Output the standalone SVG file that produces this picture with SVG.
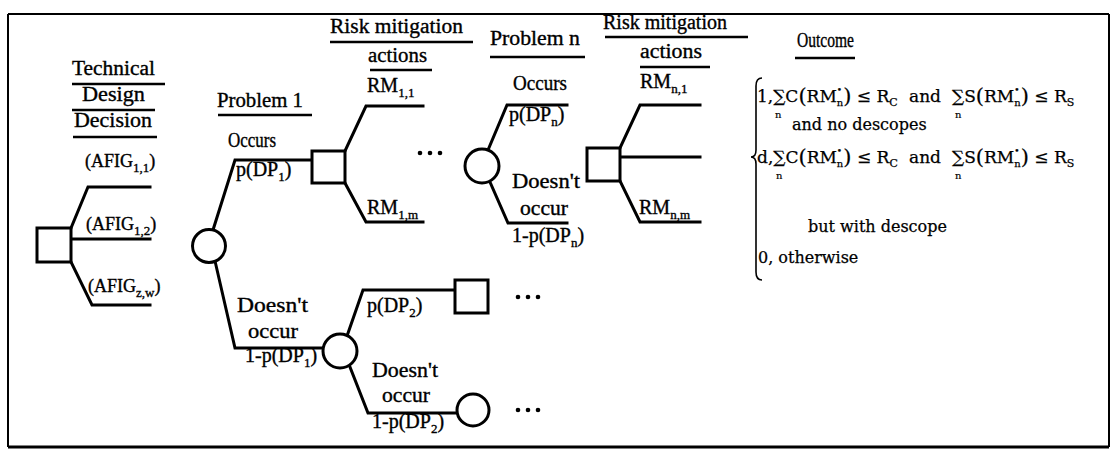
<svg xmlns="http://www.w3.org/2000/svg" width="1113" height="455" viewBox="0 0 1113 455">
  <style>
    .frame { fill: none; stroke: #000; }
    .br { fill: none; stroke: #000; stroke-width: 3; stroke-linejoin: miter; stroke-linecap: square; }
    .dec { fill: #fff; stroke: #000; stroke-width: 3; }
    .chance { fill: #fff; stroke: #000; stroke-width: 3; }
    .ul { stroke: #000; stroke-width: 2.5; }
    .dot { fill: #000; }
    text { font-family: "Liberation Serif", "Times New Roman", serif; fill: #000; stroke: #000; stroke-width: 0.35; }
    .lbl { font-size: 20px; }
    .afig { font-size: 18px; }
    .hd { font-size: 20px; }
    .sub { font-size: 13px; }
    .oc { font-family: "DejaVu Serif", "Liberation Serif", serif; font-size: 17px; stroke-width: 0.25; }
    .oc2 { font-family: "DejaVu Serif", "Liberation Serif", serif; font-size: 16px; stroke-width: 0.25; }
    .ocs { font-family: "DejaVu Serif", "Liberation Serif", serif; font-size: 10px; stroke-width: 0.2; }
    .big { font-size: 21px; }
    .sup { font-size: 9px; }
    .smal { font-size: 10px; }
    .rsub { font-size: 11px; }
  </style>

  <!-- outer border -->
  <g id="border">
    <line class="frame" x1="8" y1="14" x2="1109" y2="14" stroke-width="2"/>
    <line class="frame" x1="8" y1="14" x2="8" y2="447" stroke-width="2"/>
    <line class="frame" x1="1109" y1="14" x2="1109" y2="447" stroke-width="2"/>
    <line class="frame" x1="8" y1="447" x2="1109" y2="447" stroke-width="3"/>
  </g>

  <!-- column headings -->
  <g id="headings">
    <text class="hd" x="72" y="75" textLength="83" lengthAdjust="spacingAndGlyphs">Technical</text>
    <line class="ul" x1="72" y1="84" x2="165" y2="84"/>
    <text class="hd" x="82" y="101" textLength="63" lengthAdjust="spacingAndGlyphs">Design</text>
    <line class="ul" x1="72" y1="110" x2="155" y2="110"/>
    <text class="hd" x="74" y="127" textLength="78" lengthAdjust="spacingAndGlyphs">Decision</text>
    <line class="ul" x1="73" y1="137" x2="157" y2="137"/>

    <text class="hd" x="217" y="107" textLength="86" lengthAdjust="spacingAndGlyphs">Problem 1</text>
    <line class="ul" x1="218" y1="115" x2="312" y2="115"/>

    <text class="hd" x="330" y="33" textLength="133" lengthAdjust="spacingAndGlyphs">Risk mitigation</text>
    <line class="ul" x1="330" y1="42" x2="473" y2="42"/>
    <text class="hd" x="368" y="62" textLength="59" lengthAdjust="spacingAndGlyphs">actions</text>
    <line class="ul" x1="370" y1="70" x2="432" y2="70"/>

    <text class="hd" x="490" y="45" textLength="90" lengthAdjust="spacingAndGlyphs">Problem n</text>
    <line class="ul" x1="490" y1="57" x2="585" y2="57"/>

    <text class="hd" x="603" y="29" textLength="124" lengthAdjust="spacingAndGlyphs">Risk mitigation</text>
    <line class="ul" x1="605" y1="37" x2="748" y2="37"/>
    <text class="hd" x="640" y="58" textLength="62" lengthAdjust="spacingAndGlyphs">actions</text>
    <line class="ul" x1="640" y1="67" x2="710" y2="67"/>

    <text class="hd" x="797" y="47" textLength="57" lengthAdjust="spacingAndGlyphs">Outcome</text>
    <line class="ul" x1="795" y1="58" x2="855" y2="58"/>
  </g>

  <!-- branches -->
  <g id="connectors">
    <path class="br" d="M71,228 L88,187 L150,187"/>
    <path class="br" d="M71,239 L150,239"/>
    <path class="br" d="M71,262 L92,305 L150,305"/>

    <path class="br" d="M213,230 L235,160 L312,160"/>
    <path class="br" d="M215,261 L235,348 L323,348"/>

    <path class="br" d="M345,151 L366,106 L423,106"/>
    <path class="br" d="M345,183 L366,222 L423,222"/>

    <path class="br" d="M488,150 L507,105 L567,105"/>
    <path class="br" d="M490,182 L508,223 L567,223"/>

    <path class="br" d="M620,148 L640,105 L700,105"/>
    <path class="br" d="M620,157 L700,157"/>
    <path class="br" d="M620,181 L640,222 L700,222"/>

    <path class="br" d="M347,336 L363,290 L455,290"/>
    <path class="br" d="M350,367 L368,413 L457,413"/>
  </g>

  <!-- decision nodes -->
  <g id="decision-tdd"><rect class="dec" x="37" y="228" width="34" height="34"/></g>
  <g id="decision-p1"><rect class="dec" x="312" y="151" width="33" height="32"/></g>
  <g id="decision-pn"><rect class="dec" x="587" y="148" width="33" height="33"/></g>
  <g id="decision-p2"><rect class="dec" x="455" y="280" width="33" height="33"/></g>

  <!-- chance nodes -->
  <g id="chance-p1"><circle class="chance" cx="209" cy="246" r="16.5"/></g>
  <g id="chance-pn"><circle class="chance" cx="482" cy="166" r="17"/></g>
  <g id="chance-p2"><circle class="chance" cx="340" cy="351" r="17"/></g>
  <g id="chance-p3"><circle class="chance" cx="473" cy="410" r="16"/></g>

  <!-- ellipses -->
  <g id="ellipsis">
    <circle class="dot" cx="420" cy="153" r="2.3"/>
    <circle class="dot" cx="430" cy="153" r="2.3"/>
    <circle class="dot" cx="440" cy="153" r="2.3"/>
    <circle class="dot" cx="518" cy="297" r="2.3"/>
    <circle class="dot" cx="528" cy="297" r="2.3"/>
    <circle class="dot" cx="538" cy="297" r="2.3"/>
    <circle class="dot" cx="518" cy="410" r="2.3"/>
    <circle class="dot" cx="528" cy="410" r="2.3"/>
    <circle class="dot" cx="538" cy="410" r="2.3"/>
  </g>

  <!-- branch labels -->
  <g id="labels">
    <text class="afig" x="85" y="167">(AFIG<tspan class="sub" dy="5">1,1</tspan><tspan dy="-5">)</tspan></text>
    <text class="afig" x="86" y="230">(AFIG<tspan class="sub" dy="5">1,2</tspan><tspan dy="-5">)</tspan></text>
    <text class="afig" x="88" y="292">(AFIG<tspan class="sub" dy="5">z,w</tspan><tspan dy="-5">)</tspan></text>

    <text class="lbl" x="228" y="147" textLength="48" lengthAdjust="spacingAndGlyphs">Occurs</text>
    <text class="lbl" x="236" y="176">p(DP<tspan class="sub" dy="5">1</tspan><tspan dy="-5">)</tspan></text>
    <text class="lbl" x="237" y="312" textLength="71" lengthAdjust="spacingAndGlyphs">Doesn't</text>
    <text class="lbl" x="248" y="338" textLength="50" lengthAdjust="spacingAndGlyphs">occur</text>
    <text class="lbl" x="245" y="362">1-p(DP<tspan class="sub" dy="5">1</tspan><tspan dy="-5">)</tspan></text>

    <text class="lbl" x="367" y="92">RM<tspan class="sub" dy="5">1,1</tspan></text>
    <text class="lbl" x="367" y="214">RM<tspan class="sub" dy="5">1,m</tspan></text>

    <text class="lbl" x="513" y="90" textLength="54" lengthAdjust="spacingAndGlyphs">Occurs</text>
    <text class="lbl" x="509" y="121">p(DP<tspan class="sub" dy="5">n</tspan><tspan dy="-5">)</tspan></text>
    <text class="lbl" x="512" y="188" textLength="68" lengthAdjust="spacingAndGlyphs">Doesn't</text>
    <text class="lbl" x="520" y="215" textLength="48" lengthAdjust="spacingAndGlyphs">occur</text>
    <text class="lbl" x="512" y="242">1-p(DP<tspan class="sub" dy="5">n</tspan><tspan dy="-5">)</tspan></text>

    <text class="lbl" x="640" y="88">RM<tspan class="sub" dy="5">n,1</tspan></text>
    <text class="lbl" x="639" y="214">RM<tspan class="sub" dy="5">n,m</tspan></text>

    <text class="lbl" x="367" y="312">p(DP<tspan class="sub" dy="5">2</tspan><tspan dy="-5">)</tspan></text>
    <text class="lbl" x="372" y="377" textLength="66" lengthAdjust="spacingAndGlyphs">Doesn't</text>
    <text class="lbl" x="382" y="402" textLength="48" lengthAdjust="spacingAndGlyphs">occur</text>
    <text class="lbl" x="372" y="428">1-p(DP<tspan class="sub" dy="5">2</tspan><tspan dy="-5">)</tspan></text>
  </g>

  <!-- outcome function -->
  <g id="outcome">
    <path fill="none" stroke="#000" stroke-width="1.6" d="M762,78 Q756,78 756,86 L756,150 Q756,157 751,157 Q756,157 756,164 L756,272 Q756,280 762,280"/>

    <!-- case 1 -->
    <text class="oc" x="757" y="102">1,∑C<tspan class="big" dy="1">(</tspan><tspan dy="-1">RM</tspan><tspan class="sup" dy="-9">•</tspan><tspan class="smal" dx="-5.3" dy="13">n</tspan><tspan class="big" dy="-3">)</tspan><tspan dy="-1"> ≤ R</tspan><tspan class="rsub" dy="4">C</tspan></text>
    <text class="ocs" x="775" y="118">n</text>
    <text class="oc" x="909" y="102">and</text>
    <text class="oc" x="952" y="102">∑S<tspan class="big" dy="1">(</tspan><tspan dy="-1">RM</tspan><tspan class="sup" dy="-9">•</tspan><tspan class="smal" dx="-5.3" dy="13">n</tspan><tspan class="big" dy="-3">)</tspan><tspan dy="-1"> ≤ R</tspan><tspan class="rsub" dy="4">S</tspan></text>
    <text class="ocs" x="955" y="118">n</text>

    <text class="oc2" x="792" y="130">and no descopes</text>

    <!-- case d -->
    <text class="oc" x="757" y="163">d,∑C<tspan class="big" dy="1">(</tspan><tspan dy="-1">RM</tspan><tspan class="sup" dy="-9">•</tspan><tspan class="smal" dx="-5.3" dy="13">n</tspan><tspan class="big" dy="-3">)</tspan><tspan dy="-1"> ≤ R</tspan><tspan class="rsub" dy="4">C</tspan></text>
    <text class="ocs" x="776" y="179">n</text>
    <text class="oc" x="909" y="163">and</text>
    <text class="oc" x="952" y="163">∑S<tspan class="big" dy="1">(</tspan><tspan dy="-1">RM</tspan><tspan class="sup" dy="-9">•</tspan><tspan class="smal" dx="-5.3" dy="13">n</tspan><tspan class="big" dy="-3">)</tspan><tspan dy="-1"> ≤ R</tspan><tspan class="rsub" dy="4">S</tspan></text>
    <text class="ocs" x="955" y="179">n</text>

    <text class="oc2" x="808" y="232">but with descope</text>

    <!-- case 0 -->
    <text class="oc2" x="758" y="263">0, otherwise</text>
  </g>
</svg>
